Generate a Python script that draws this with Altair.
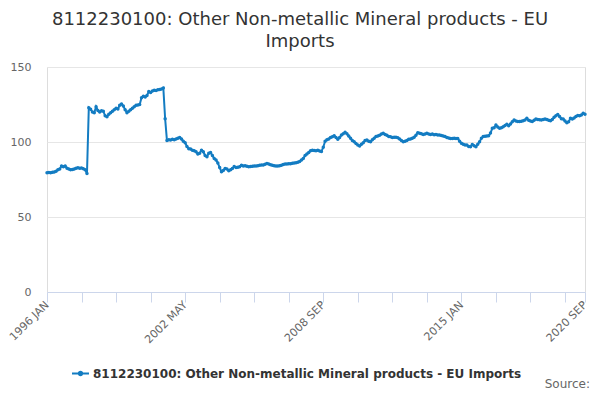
import altair as alt
import pandas as pd

# ---- data (monthly index values, 1996 JAN .. 2020 SEP) ----
v1996 = [79.5, 79.6, 79.5, 79.8, 80.0, 80.5, 81.5, 82.0, 84.0, 83.5, 84.0, 82.5]
v1997 = [82.0, 81.5, 81.6, 82.0, 82.5, 82.8, 82.5, 82.7, 82.2, 81.5, 79.0, 122.9]
v1998 = [121.8, 120.0, 119.5, 123.5, 121.0, 120.0, 120.8, 120.5, 117.5, 116.8, 118.5, 119.5]
v1999 = [120.5, 121.5, 122.5, 122.0, 124.5, 125.3, 124.0, 121.5, 119.5, 120.5, 121.5, 122.5]
v2000 = [123.5, 124.5, 124.7, 125.0, 129.5, 130.5, 130.0, 131.0, 133.6, 133.0, 134.0, 134.5]
v2001 = [134.3, 134.8, 135.0, 135.3, 136.0, 115.5, 101.0, 101.5, 101.3, 101.8, 101.5, 102.0]
v2002 = [102.5, 103.0, 102.0, 100.5, 99.5, 97.0, 95.5, 95.3, 94.5, 94.2, 93.5, 92.0]
v2003 = [92.5, 94.5, 93.5, 91.0, 90.2, 92.5, 93.0, 91.0, 89.0, 88.0, 86.0, 83.0]
v2004 = [80.2, 81.0, 82.4, 82.0, 80.9, 81.5, 82.4, 83.6, 83.0, 83.1, 83.5, 84.5]
v2005 = [84.0, 84.2, 83.8, 83.5, 83.6, 83.8, 84.0, 84.0, 84.2, 84.5, 84.6, 84.7]
v2006 = [85.2, 85.6, 85.3, 84.8, 84.5, 84.2, 84.0, 84.0, 84.2, 84.5, 85.0, 85.3]
v2007 = [85.3, 85.5, 85.5, 85.8, 86.0, 86.2, 86.5, 87.0, 88.0, 89.0, 91.0, 92.0]
v2008 = [93.0, 94.2, 94.5, 94.3, 94.2, 94.5, 94.0, 93.6, 96.5, 100.5, 101.5, 102.0]
v2009 = [103.0, 103.5, 104.2, 103.0, 101.8, 103.0, 104.7, 105.5, 106.5, 105.5, 104.0, 102.5]
v2010 = [101.0, 100.2, 99.0, 98.0, 97.3, 98.5, 99.5, 101.0, 101.3, 100.5, 100.2, 101.5]
v2011 = [102.5, 103.6, 104.0, 104.5, 105.3, 105.8, 105.0, 104.5, 103.6, 103.5, 103.0, 103.2]
v2012 = [103.1, 102.8, 102.0, 101.0, 100.2, 100.5, 101.0, 101.8, 102.0, 102.5, 103.1, 104.5]
v2013 = [106.2, 105.8, 105.5, 105.0, 105.3, 105.8, 105.3, 105.0, 105.3, 104.8, 105.0, 104.7]
v2014 = [104.7, 104.3, 104.0, 103.6, 103.0, 102.6, 102.4, 102.4, 102.5, 102.4, 102.4, 100.5]
v2015 = [99.1, 98.5, 98.0, 98.0, 97.0, 96.9, 98.4, 97.5, 96.9, 98.5, 100.2, 102.5]
v2016 = [103.6, 103.8, 104.0, 104.2, 106.0, 109.1, 109.5, 111.3, 110.0, 109.1, 109.5, 110.2]
v2017 = [111.0, 111.8, 110.9, 112.0, 113.5, 114.7, 114.0, 113.6, 113.6, 113.8, 114.2, 114.7]
v2018 = [115.8, 114.5, 114.0, 113.6, 114.5, 115.3, 115.0, 114.8, 114.7, 115.0, 115.3, 115.0]
v2019 = [114.5, 114.2, 115.0, 116.5, 117.5, 118.4, 117.0, 115.5, 115.3, 114.0, 112.9, 113.5]
v2020 = [115.8, 115.3, 116.0, 117.0, 117.6, 117.5, 118.0, 119.1, 118.5]

tick_labels = ["1996 JAN", "2002 MAY", "2008 SEP", "2015 JAN", "2020 SEP"]
label_idx = [0, 76, 152, 228, 296]
tick_idx = [0, 19, 38, 57, 76, 95, 114, 133, 152, 171, 190, 209, 228, 247, 266, 285, 296]
y_ticks = [0, 50, 100, 150]

series_name = "8112230100: Other Non-metallic Mineral products - EU Imports"
title_lines = ["8112230100: Other Non-metallic Mineral products - EU", "Imports"]

values = (v1996 + v1997 + v1998 + v1999 + v2000 + v2001 + v2002 + v2003 + v2004 +
          v2005 + v2006 + v2007 + v2008 + v2009 + v2010 + v2011 + v2012 + v2013 +
          v2014 + v2015 + v2016 + v2017 + v2018 + v2019 + v2020)

df = pd.DataFrame({"i": list(range(len(values))), "v": values, "s": series_name})

blue = "#137cc2"
font = "DejaVu Sans"

label_expr = " : ".join(f"datum.value == {k} ? '{t}'" for k, t in zip(label_idx, tick_labels)) + " : ''"

legend_symbol = "M-1,0L1,0M-0.2,0a0.2,0.2 0 1,0 0.4,0a0.2,0.2 0 1,0 -0.4,0"

line = alt.Chart(df).mark_line(
    strokeWidth=2,
    point=alt.OverlayMarkDef(filled=True, size=12),
).encode(
    x=alt.X(
        "i:Q",
        scale=alt.Scale(domain=[0, 296], nice=False, zero=False),
        axis=alt.Axis(
            values=tick_idx, labelExpr=label_expr, labelAngle=-45,
            labelAlign="right", labelBaseline="middle", tickSize=10,
            tickColor="#ccd6eb", domainColor="#ccd6eb", grid=False, title=None,
            labelColor="#666666", labelFontSize=11, labelPadding=1,
            labelOverlap=False, labelFlush=False, labelFont=font,
        ),
    ),
    y=alt.Y(
        "v:Q",
        scale=alt.Scale(domain=[0, 150], nice=False),
        axis=alt.Axis(
            values=y_ticks, grid=True, gridColor="#e6e6e6", domain=False,
            ticks=False, title=None, labelColor="#666666", labelFontSize=11,
            labelPadding=16, labelFont=font,
        ),
    ),
    color=alt.Color(
        "s:N",
        scale=alt.Scale(range=[blue]),
        legend=alt.Legend(
            orient="none", legendX=24, legendY=297, title=None,
            symbolType=legend_symbol, symbolSize=289, symbolStrokeWidth=2,
            symbolStrokeColor=blue, symbolFillColor=blue,
            labelFontSize=12, labelFontWeight="bold", labelColor="#333333",
            labelFont=font, labelOffset=3, labelLimit=600,
        ),
    ),
)

source = alt.Chart(pd.DataFrame({"t": ["Source:"]})).mark_text(
    align="right", baseline="middle", fontSize=12, color="#666666", font=font
).encode(text="t:N", x=alt.value(543), y=alt.value(317))

chart = alt.layer(line, source).properties(
    width=538,
    height=225,
    title=alt.TitleParams(
        text=title_lines, fontSize=18, font=font, color="#333333",
        fontWeight="normal", anchor="middle", dx=-16, dy=24, offset=20,
        baseline="alphabetic", lineHeight=22,
    ),
    autosize=alt.AutoSizeParams(type="none"),
    padding={"left": 39, "top": 59, "right": 7, "bottom": 100},
).configure_view(stroke=None).configure(font=font)

chart.save("out.html", embed_options={"renderer": "svg", "actions": False})
